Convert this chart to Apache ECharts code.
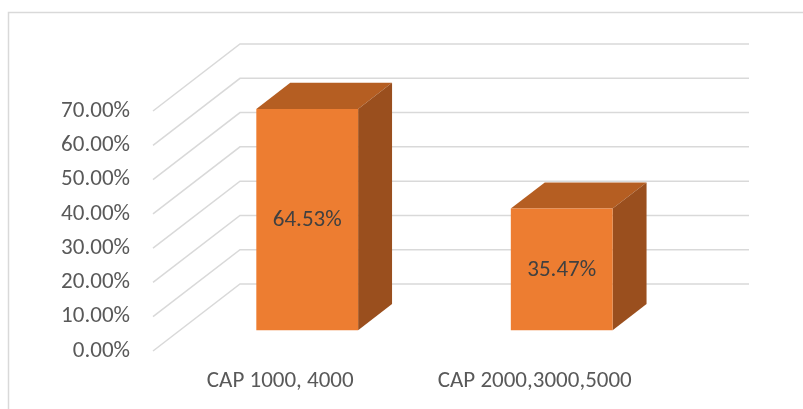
<!DOCTYPE html>
<html>
<head>
<meta charset="utf-8">
<script src="https://cdn.jsdelivr.net/npm/echarts@6/dist/echarts.min.js"></script>
<style>html,body{margin:0;padding:0;background:#fff;}#c{width:803px;height:409px;}</style>
</head>
<body>
<div id="c"></div>
<script>
var categories = ['CAP 1000, 4000', 'CAP 2000,3000,5000'];
var values = [0.6453, 0.3547];
var ticks = [0, 0.1, 0.2, 0.3, 0.4, 0.5, 0.6, 0.7];

var FONT = 'Carlito, Roboto, sans-serif';
var FS = 23;
var DX = 87, DY = -67;       // depth projection of the 3D floor
var F0 = 0.31, F1 = 0.70;    // bar depth range (fraction of floor depth)
var BAR_FRAC = 0.4;

var chart = echarts.init(document.getElementById('c'), null, {renderer: 'canvas'});

function gridRender(params, api) {
  var cs = params.coordSys;
  var y = api.coord([0, api.value(1)])[1];
  var L = cs.x, R = cs.x + cs.width;
  return {
    type: 'polyline',
    shape: {points: [[L, y], [L + DX, y + DY], [R + DX, y + DY]]},
    style: {stroke: '#d9d9d9', lineWidth: 1.5, fill: null},
    silent: true
  };
}

function barRender(params, api) {
  var idx = api.value(0), v = api.value(1);
  var base = api.coord([idx, 0]);
  var topP = api.coord([idx, v]);
  var band = api.size([1, 0])[0];
  var w = band * BAR_FRAC;
  var x0 = base[0] - w / 2 + F0 * DX, x1 = x0 + w;
  var yb = base[1] + F0 * DY, yt = topP[1] + F0 * DY;
  var bx = (F1 - F0) * DX, by = (F1 - F0) * DY;
  return {
    type: 'group',
    children: [
      {type: 'polygon', shape: {points: [[x0, yt], [x1, yt], [x1 + bx, yt + by], [x0 + bx, yt + by]]},
       style: {fill: '#b55e22'}},
      {type: 'polygon', shape: {points: [[x1, yt], [x1 + bx, yt + by], [x1 + bx, yb + by], [x1, yb]]},
       style: {fill: '#9a4f1e'}},
      {type: 'rect', shape: {x: x0, y: yt, width: w, height: yb - yt},
       style: {fill: '#ed7d31'}},
      {type: 'text', x: (x0 + x1) / 2, y: (yt + yb) / 2 + 1,
       style: {text: (v * 100).toFixed(2) + '%', fill: '#404040', font: FS + 'px ' + FONT,
               align: 'center', verticalAlign: 'middle'}}
    ]
  };
}

chart.setOption({
  animation: false,
  backgroundColor: '#fff',
  graphic: [{
    type: 'rect', left: 6, top: 10, silent: true, z: -10,
    shape: {width: 820, height: 420},
    style: {fill: null, stroke: '#d9d9d9', lineWidth: 1.5}
  }],
  grid: {left: 153, right: 141, top: 111, bottom: 58},
  xAxis: {
    type: 'category', data: categories,
    axisLine: {show: false}, axisTick: {show: false},
    axisLabel: {color: '#595959', fontSize: FS, fontFamily: FONT, margin: 19}
  },
  yAxis: {
    type: 'value', min: 0, max: 0.7, interval: 0.1,
    axisLine: {show: false}, axisTick: {show: false}, splitLine: {show: false},
    axisLabel: {color: '#595959', fontSize: FS, fontFamily: FONT, margin: 23,
      formatter: function (v) { return (v * 100).toFixed(2) + '%'; }}
  },
  series: [
    {type: 'custom', renderItem: gridRender, z: 1, silent: true,
     encode: {x: 0, y: 1},
     data: ticks.map(function (t) { return [0, t]; })},
    {type: 'custom', renderItem: barRender, z: 2,
     encode: {x: 0, y: 1},
     data: values.map(function (v, i) { return [i, v]; })}
  ]
});
</script>
</body>
</html>
